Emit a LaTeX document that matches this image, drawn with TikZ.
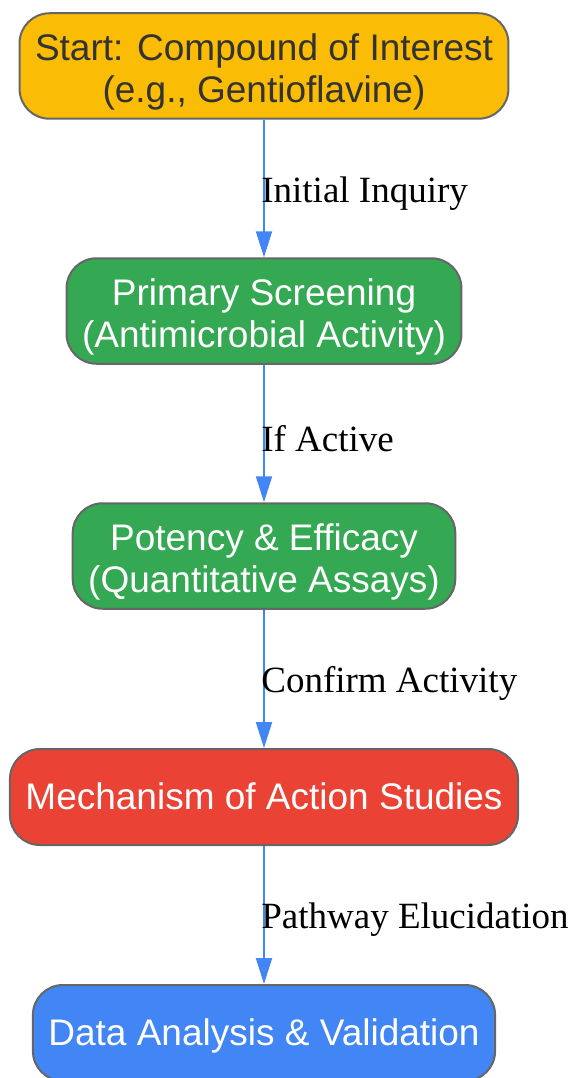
\documentclass[tikz,border=0pt]{standalone}
\usepackage{fontspec}
\setmainfont{Liberation Serif}
\newfontfamily\boxfont{Liberation Sans}
\usepackage{tikz}
\usetikzlibrary{arrows.meta,backgrounds,calc}
\definecolor{startyellow}{HTML}{FBBC05}
\definecolor{stepgreen}{HTML}{34A853}
\definecolor{studyred}{HTML}{EA4335}
\definecolor{dataBlue}{HTML}{4285F4}
\definecolor{borderGray}{HTML}{666666}
\definecolor{darkText}{HTML}{333333}
\tikzset{
  stepbox/.style={draw=borderGray, line width=2pt, rounded corners=30pt,
    align=center, inner xsep=15.5pt, inner ysep=13pt, minimum height=96pt,
    text height=27pt, text depth=3pt,
    font=\boxfont\fontsize{37}{42.5}\selectfont, text=white},
  twoline/.style={text height=76.5pt},
  flow/.style={draw=dataBlue, line width=2pt,
    -{Triangle[length=26pt,width=16pt]}},
  edgelabel/.style={anchor=west, xshift=-7pt, yshift=-5pt,
    font=\fontsize{37}{42.5}\selectfont, text=black}
}

\begin{document}
\begin{tikzpicture}[x=1pt,y=-1pt]
\useasboundingbox (0,0) rectangle (572,1078);
\node[stepbox, twoline, fill=startyellow, text=darkText] (start) at (264,66)
  {Start: Compound of Interest\\(e.g., Gentioflavine)};
\node[stepbox, twoline, fill=stepgreen] (screening) at (264,311)
  {Primary Screening\\(Antimicrobial Activity)};
\node[stepbox, twoline, fill=stepgreen] (potency) at (264,556)
  {Potency \& Efficacy\\(Quantitative Assays)};
\node[stepbox, fill=studyred] (mechanism) at (264,797)
  {Mechanism of Action Studies};
\node[stepbox, fill=dataBlue] (analysis) at (264,1033)
  {Data Analysis \& Validation};

\draw[flow] (start) -- node[edgelabel] {Initial Inquiry} (screening);
\draw[flow] (screening) -- node[edgelabel] {If Active} (potency);
\draw[flow] (potency) -- node[edgelabel] {Confirm Activity} (mechanism);
\draw[flow] (mechanism) -- node[edgelabel] {Pathway Elucidation} (analysis);
\end{tikzpicture}
\end{document}
